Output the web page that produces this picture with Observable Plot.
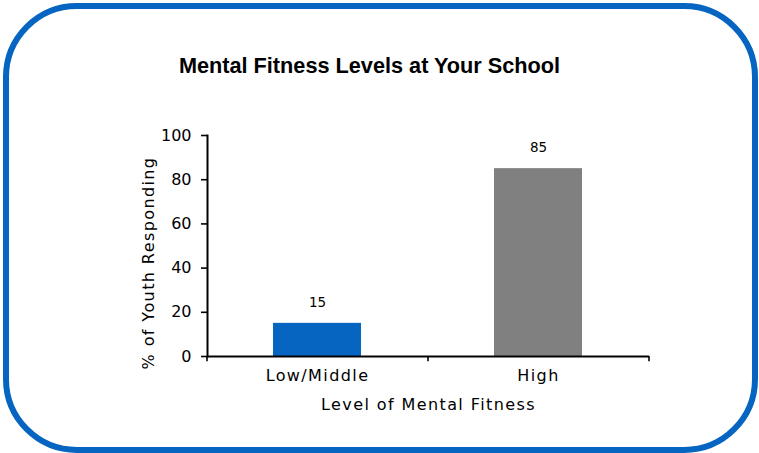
<!DOCTYPE html>
<html>
<head>
<meta charset="utf-8">
<script src="https://cdn.jsdelivr.net/npm/d3@7"></script>
<script src="https://cdn.jsdelivr.net/npm/@observablehq/plot@0.6"></script>
<style>
  html, body { margin: 0; padding: 0; background: #fff; }
  #card {
    position: relative;
    width: 759px;
    height: 453px;
    overflow: hidden;
  }
  #border {
    position: absolute;
    left: 3px; top: 3px;
    width: 755px; height: 450px;
    box-sizing: border-box;
    border: 6px solid #0565c0;
    border-radius: 74px;
  }
  #title {
    position: absolute;
    left: 0; top: 55px;
    width: 739px;
    text-align: center;
    font-family: "Liberation Sans", Arial, sans-serif;
    font-weight: bold;
    font-size: 21.7px;
    line-height: 1;
    color: #000;
    white-space: nowrap;
  }
  #chart { position: absolute; left: 0; top: 0; }
</style>
</head>
<body>
<div id="card">
  <div id="border"></div>
  <div id="title">Mental Fitness Levels at Your School</div>
  <div id="chart"></div>
</div>
<script>
// Share of youth at each level of mental fitness
const levels = ["Low/Middle", "High"];
const percents = [15, 85];
const barColors = ["#0565c0", "#808080"];
const yTicks = [0, 20, 40, 60, 80, 100];
const xTitle = "Level of Mental Fitness";
const yTitle = "% of Youth Responding";

const rows = levels.map((level, i) => ({level, value: percents[i], color: barColors[i]}));

const font = "'DejaVu Sans', Verdana, sans-serif";
const step = 221; // band step in px (plot width / number of levels)

const chart = Plot.plot({
  width: 759,
  height: 453,
  marginTop: 135,
  marginBottom: 97,
  marginLeft: 207,
  marginRight: 110,
  style: {fontFamily: font, fontSize: "16px", color: "#000", background: "transparent"},
  x: {domain: levels, paddingInner: 0.6, paddingOuter: 0.3, axis: null},
  y: {domain: [0, 100], axis: null},
  marks: [
    Plot.barY(rows, {x: "level", y: "value", fill: "color"}),
    // value labels above the bars
    Plot.text(rows, {x: "level", y: "value", text: d => String(d.value), dy: -21,
      fontSize: 13.5, fill: "#000"}),
    // y axis: line, ticks and labels
    Plot.frame({anchor: "left", stroke: "#000", strokeWidth: 2}),
    Plot.axisY(yTicks, {ticks: yTicks, tickSize: 6, tickPadding: 10, strokeWidth: 1.6,
      fontSize: 16, label: null}),
    // x axis: baseline, boundary ticks and category labels
    Plot.ruleY([0], {stroke: "#000", strokeWidth: 2}),
    Plot.ruleX(levels, {x: d => d, dx: -step / 2, y1: 0, y2: -2.4, stroke: "#000", strokeWidth: 1.6}),
    Plot.ruleX(levels.slice(-1), {x: d => d, dx: step / 2, y1: 0, y2: -2.4, stroke: "#000", strokeWidth: 1.6}),
    Plot.text(levels, {x: d => d, frameAnchor: "bottom", dy: 24, fontSize: 16, fill: "#000"}),
    // axis titles
    Plot.text([xTitle], {frameAnchor: "bottom", dy: 53, fontSize: 16, fill: "#000"}),
    Plot.text([yTitle], {frameAnchor: "left", textAnchor: "middle", dx: -59, dy: 17, rotate: -90,
      fontSize: 16, fill: "#000"})
  ]
});

// widen the letter spacing of the word labels; numbers keep their natural spacing
d3.select(chart).selectAll("text").each(function() {
  const t = this.textContent.trim();
  if (!/^\d+$/.test(t)) d3.select(this).style("letter-spacing", "1.4px");
});

document.getElementById("chart").appendChild(chart);
</script>
</body>
</html>
